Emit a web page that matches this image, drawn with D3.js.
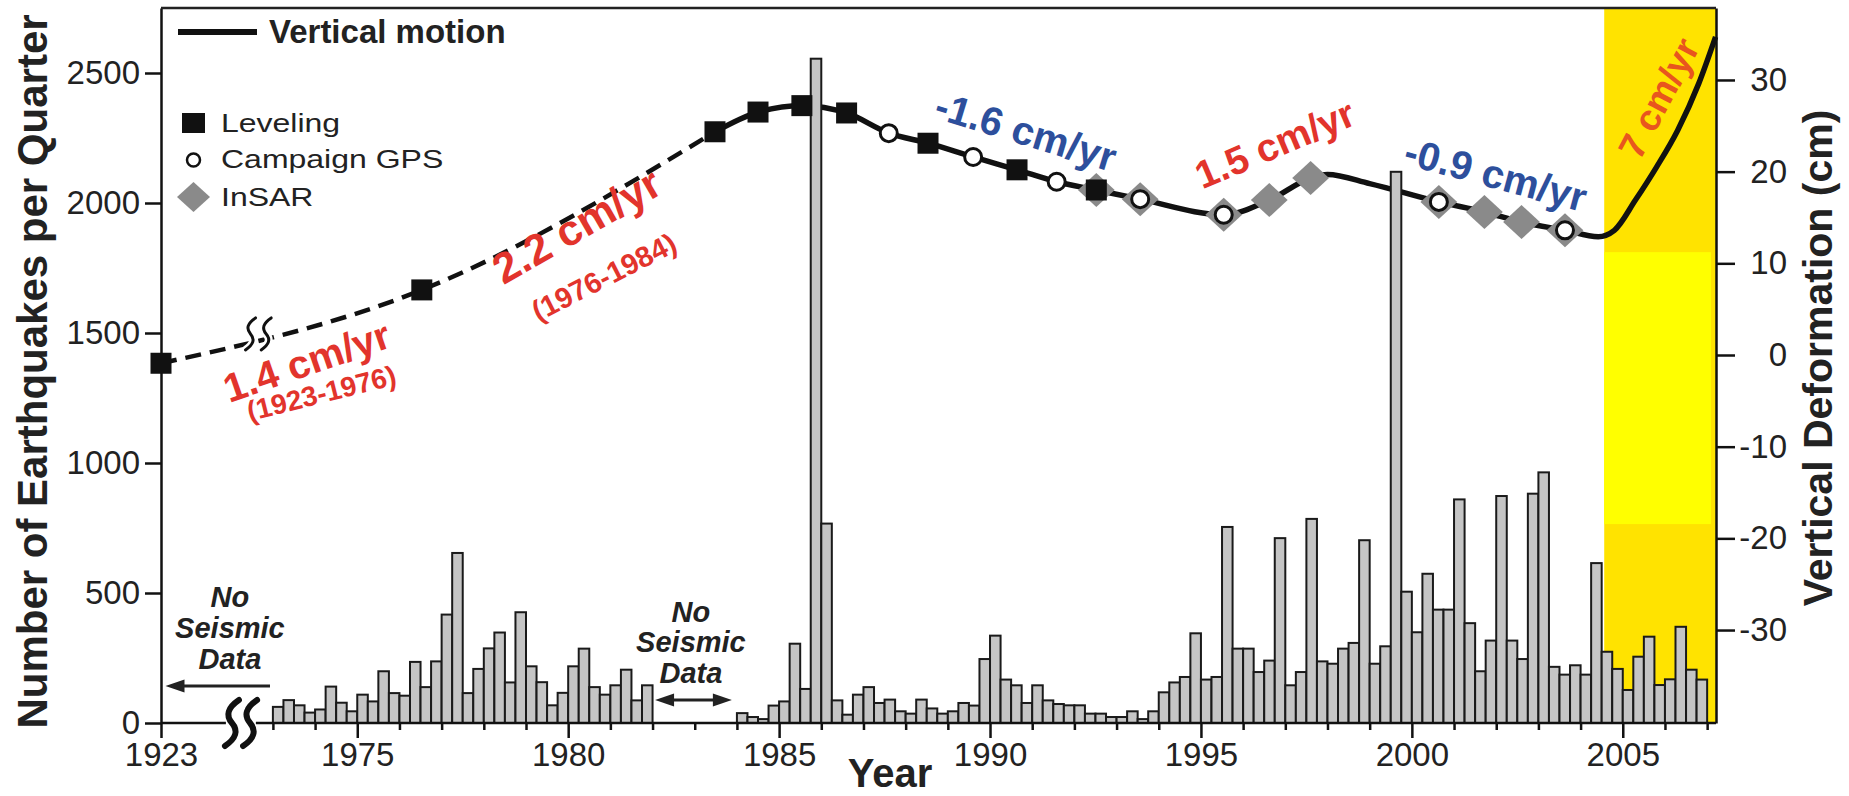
<!DOCTYPE html>
<html>
<head>
<meta charset="utf-8">
<script src="https://cdn.jsdelivr.net/npm/d3@7"></script>
<style>
  html, body { margin: 0; padding: 0; background: #fff; }
  svg { display: block; }
  text { font-family: "Liberation Sans", Arial, Helvetica, sans-serif; }
</style>
</head>
<body>
<svg id="chart" width="1849" height="796"></svg>
<script>
// ---- Quarterly earthquake counts (first quarter of each block, then one value per quarter)
const quakeStartEarly = 1973;
const quakeCountsEarly = [
  62, 88, 68, 40,      // 1973
  52, 140, 78, 45,     // 1974
  109, 83, 199, 115,   // 1975
  105, 235, 138, 237,  // 1976
  417, 654, 115, 208,  // 1977
  287, 348, 156, 426,  // 1978
  218, 157, 68, 116,   // 1979
  218, 286, 138, 109,  // 1980
  145, 205, 87, 145    // 1981
];
const quakeStartLate = 1984;
const quakeCountsLate = [
  38, 23, 15, 67,       // 1984
  83, 305, 131, 2555,   // 1985
  767, 87, 32, 109,     // 1986
  138, 77, 90, 45,      // 1987
  36, 90, 56, 36,       // 1988
  45, 77, 67, 246,      // 1989
  336, 167, 145, 77,    // 1990
  145, 87, 73, 68,      // 1991
  68, 36, 36, 23,       // 1992
  23, 45, 15, 45,       // 1993
  118, 156, 177, 345,   // 1994
  167, 177, 754, 286,   // 1995
  286, 196, 240, 711,   // 1996
  145, 196, 785, 237,   // 1997
  228, 286, 308, 703,   // 1998
  228, 295, 2120, 505,  // 1999
  349, 574, 436, 436,   // 2000
  860, 384, 199, 317,   // 2001
  873, 317, 246, 882,   // 2002
  964, 216, 186, 222,   // 2003
  186, 615, 274, 208,   // 2004
  127, 255, 332, 146,   // 2005
  168, 370, 205, 167    // 2006
];

// ---- Vertical motion (cm)
const motionYears = [1923, 1976.53, 1983.48, 1984.5, 1985.54, 1986.6, 1987.6, 1988.53, 1989.6,
  1990.64, 1991.58, 1992.52, 1993.56, 1995.54, 1996.62, 1997.6, 1998.0, 1999.0, 2000.64,
  2001.72, 2002.6, 2003.63, 2004.42, 2004.8, 2005.3, 2005.8, 2006.3, 2006.8, 2007.2];
const motionCm = [-0.9, 7.1, 24.35, 26.5, 27.2, 26.4, 24.2, 23.1, 21.6,
  20.2, 18.9, 18.0, 17.0, 15.3, 16.9, 19.3, 19.7, 18.7, 16.7,
  15.6, 14.5, 13.6, 12.9, 13.6, 16.9, 20.5, 24.5, 29.6, 34.7];
const dashedUntil = 1983.48;

const levelingYears = [1923, 1976.53, 1983.48, 1984.5, 1985.54, 1986.6, 1988.53, 1990.64, 1992.52];
const levelingCm    = [-0.9, 7.1, 24.35, 26.5, 27.2, 26.4, 23.1, 20.2, 18.0];
const gpsYears = [1987.6, 1989.6, 1991.58, 1993.56, 1995.54, 2000.64, 2003.63];
const gpsCm    = [24.2, 21.6, 18.9, 17.0, 15.3, 16.7, 13.6];
const insarYears = [1992.52, 1993.56, 1995.54, 1996.62, 1997.6, 2000.64, 2001.72, 2002.6, 2003.63];
const insarCm    = [18.0, 17.0, 15.3, 16.9, 19.3, 16.7, 15.6, 14.5, 13.6];

// ---- Axis ticks
const countTicks = [0, 500, 1000, 1500, 2000, 2500];
const cmTicks = [30, 20, 10, 0, -10, -20, -30];
const yearLabels = [1923, 1975, 1980, 1985, 1990, 1995, 2000, 2005];
const yearMinor = [1973, 1974, 1976, 1977, 1978, 1979, 1981, 1982, 1983, 1984, 1986, 1987, 1988, 1989,
  1991, 1992, 1993, 1994, 1996, 1997, 1998, 1999, 2001, 2002, 2003, 2004, 2006, 2007];

// ---- Rate annotations
const rateText  = ["1.4 cm/yr", "(1923-1976)", "2.2 cm/yr", "(1976-1984)", "-1.6 cm/yr", "1.5 cm/yr", "-0.9 cm/yr", "7 cm/yr"];
const rateKind  = ["up", "up", "up", "up", "down", "up", "down", "fast"];

// ---------------------------------------------------------------
const svg = d3.select("#chart");
const FONT = '"Liberation Sans", Arial, Helvetica, sans-serif';
const M = { left: 161, right: 1716, top: 8, bottom: 723 };

// time axis is broken between 1923 and 1973
const x = d3.scaleLinear().domain([1923, 1973, 2007.21]).range([M.left, 272.9, M.right]);
const yCount = d3.scaleLinear().domain([0, 2750]).range([M.bottom, M.top]);
const yCm = d3.scaleLinear().domain([-40.14, 37.85]).range([M.bottom, M.top]);

// annotation placement (year, cm, angle, size)
const rateLayout = [
  [1973.8, -0.7, -19, 40], [1974.15, -4.2, -14, 28],
  [1980.2, 14.1, -30, 43], [1980.85, 8.5, -27, 29],
  [1990.85, 24.4, 17, 40], [1996.75, 23.0, -23, 39],
  [2001.99, 19.7, 15, 40], [2005.86, 28.0, -62, 37]
];
const rateColor = { up: "#e2342c", down: "#2d4f9c", fast: "#e8561e" };

// ---- highlighted recent period
const bandStart = 2004.56;
svg.append("rect")
  .attr("x", x(bandStart)).attr("y", M.top)
  .attr("width", M.right - x(bandStart)).attr("height", M.bottom - M.top)
  .attr("fill", "#ffe300");
svg.append("rect")
  .attr("x", x(bandStart)).attr("y", yCount(1811))
  .attr("width", x(2007.09) - x(bandStart)).attr("height", yCount(765) - yCount(1811))
  .attr("fill", "#ffff00");

// ---- vertical motion curve (drawn beneath the bars)
const motion = motionYears.map((t, i) => ({ t, cm: motionCm[i] }));
const lineGen = d3.line().x(d => x(d.t)).y(d => yCm(d.cm)).curve(d3.curveMonotoneX);
svg.append("path")
  .datum(motion.filter(d => d.t <= dashedUntil))
  .attr("d", lineGen).attr("fill", "none")
  .attr("stroke", "#111").attr("stroke-width", 4.5).attr("stroke-dasharray", "16 9");
svg.append("path")
  .datum(motion.filter(d => d.t >= dashedUntil))
  .attr("d", lineGen).attr("fill", "none")
  .attr("stroke", "#111").attr("stroke-width", 5.5).attr("stroke-linejoin", "round");

// ---- quarterly bars
const quarters = [
  ...quakeCountsEarly.map((v, i) => ({ t: quakeStartEarly + i / 4, v })),
  ...quakeCountsLate.map((v, i) => ({ t: quakeStartLate + i / 4, v }))
];
svg.append("g").selectAll("rect").data(quarters).join("rect")
  .attr("x", d => x(d.t))
  .attr("width", d => x(d.t + 0.25) - x(d.t))
  .attr("y", d => yCount(d.v))
  .attr("height", d => yCount(0) - yCount(d.v))
  .attr("fill", "#c5c5c5").attr("stroke", "#1a1a1a").attr("stroke-width", 2);

// ---- axes
function styleAxis(g, size) {
  g.attr("font-family", FONT);
  g.select(".domain").attr("stroke", "#111").attr("stroke-width", 2.5);
  g.selectAll(".tick line").attr("stroke", "#111").attr("stroke-width", 2.5);
  g.selectAll(".tick text").attr("font-size", size).attr("fill", "#222");
}
const gl = svg.append("g").attr("transform", `translate(${M.left},0)`)
  .call(d3.axisLeft(yCount).tickValues(countTicks).tickSize(16).tickSizeOuter(0).tickPadding(5)
    .tickFormat(d3.format("d")));
styleAxis(gl, 33);

const gr = svg.append("g").attr("transform", `translate(${M.right},0)`)
  .call(d3.axisRight(yCm).tickValues(cmTicks).tickSize(19).tickSizeOuter(0)
    .tickFormat(d => String(d)));
styleAxis(gr, 33);
gr.selectAll(".tick text").attr("x", 71).attr("text-anchor", "end");

const gb = svg.append("g").attr("transform", `translate(0,${M.bottom})`)
  .call(d3.axisBottom(x).tickValues(yearLabels).tickSize(15).tickPadding(5).tickFormat(d3.format("d")));
styleAxis(gb, 33);
gb.select(".domain").remove();
const gm = svg.append("g").attr("transform", `translate(0,${M.bottom})`)
  .call(d3.axisBottom(x).tickValues(yearMinor).tickSize(7).tickFormat(() => ""));
styleAxis(gm, 10);
gm.select(".domain").remove();

// baseline with a break
const baseBreakA = 1952.0, baseBreakB = 1965.4;
svg.append("line").attr("x1", M.left).attr("x2", x(baseBreakA))
  .attr("y1", M.bottom).attr("y2", M.bottom).attr("stroke", "#111").attr("stroke-width", 2.5);
svg.append("line").attr("x1", x(baseBreakB)).attr("x2", M.right)
  .attr("y1", M.bottom).attr("y2", M.bottom).attr("stroke", "#111").attr("stroke-width", 2.5);
// frame top
svg.append("line").attr("x1", M.left).attr("x2", M.right)
  .attr("y1", M.top).attr("y2", M.top).attr("stroke", "#222").attr("stroke-width", 2.5);

function squiggle(cx, cy, h, w) {
  return `M${cx + w},${cy - h / 2} Q${cx - w * 1.4},${cy - h / 4} ${cx},${cy} Q${cx + w * 1.4},${cy + h / 4} ${cx - w},${cy + h / 2}`;
}
// break marks on the time axis
[1954.7, 1962.8].forEach(t => {
  svg.append("path").attr("d", squiggle(x(t), M.bottom, 46, 7))
    .attr("fill", "none").attr("stroke", "#111").attr("stroke-width", 6).attr("stroke-linecap", "round");
});
// break marks on the motion curve
[1963.0, 1970.0].forEach(t => {
  svg.append("path").attr("d", squiggle(x(t), yCm(2.3), 32, 5))
    .attr("fill", "none").attr("stroke", "#fff").attr("stroke-width", 8);
});
[1963.0, 1970.0].forEach(t => {
  svg.append("path").attr("d", squiggle(x(t), yCm(2.3), 32, 5))
    .attr("fill", "none").attr("stroke", "#111").attr("stroke-width", 3).attr("stroke-linecap", "round");
});

// ---- markers
svg.append("g").selectAll("path").data(insarYears.map((t, i) => ({ t, cm: insarCm[i] }))).join("path")
  .attr("transform", d => `translate(${x(d.t)},${yCm(d.cm)}) scale(1.15,1)`)
  .attr("d", "M0,-17 L16,0 L0,17 L-16,0 Z")
  .attr("fill", "#8a8a8a");
svg.append("g").selectAll("rect").data(levelingYears.map((t, i) => ({ t, cm: levelingCm[i] }))).join("rect")
  .attr("x", d => x(d.t) - 10.5).attr("y", d => yCm(d.cm) - 10.5)
  .attr("width", 21).attr("height", 21).attr("fill", "#111");
svg.append("g").selectAll("circle").data(gpsYears.map((t, i) => ({ t, cm: gpsCm[i] }))).join("circle")
  .attr("cx", d => x(d.t)).attr("cy", d => yCm(d.cm)).attr("r", 8.5)
  .attr("fill", "#fff").attr("stroke", "#111").attr("stroke-width", 3);

// ---- rate annotations
svg.append("g").selectAll("text").data(rateText.map((s, i) => ({ s, k: rateKind[i], p: rateLayout[i] }))).join("text")
  .attr("transform", d => `translate(${x(d.p[0])},${yCm(d.p[1])}) rotate(${d.p[2]})`)
  .attr("text-anchor", "middle").attr("dominant-baseline", "central")
  .attr("font-weight", "bold").attr("font-size", d => d.p[3])
  .attr("fill", d => rateColor[d.k])
  .text(d => d.s);

// ---- "No Seismic Data" notes
function noDataNote(t, counts) {
  const g = svg.append("g");
  ["No", "Seismic", "Data"].forEach((s, i) => {
    g.append("text").attr("x", x(t)).attr("y", yCount(counts[i]))
      .attr("text-anchor", "middle").attr("font-size", 29).attr("font-weight", "bold")
      .attr("font-style", "italic").attr("fill", "#222").text(s);
  });
}
noDataNote(1953.8, [446, 327, 208]);
noDataNote(1982.91, [388, 273, 154]);

function arrowHead(tipX, y, dir) {
  return `M${tipX},${y} L${tipX + dir * 19},${y - 6.5} L${tipX + dir * 19},${y + 6.5} Z`;
}
// left-pointing arrow toward 1923
{
  const ay = yCount(142), x0 = x(1925.0), x1 = x(1971.7);
  svg.append("line").attr("x1", x0 + 10).attr("x2", x1).attr("y1", ay).attr("y2", ay)
    .attr("stroke", "#222").attr("stroke-width", 3);
  svg.append("path").attr("d", arrowHead(x0, ay, 1)).attr("fill", "#222");
}
// double arrow across the 1982-1984 gap
{
  const ay = yCount(88), x0 = x(1982.06), x1 = x(1983.88);
  svg.append("line").attr("x1", x0 + 10).attr("x2", x1 - 10).attr("y1", ay).attr("y2", ay)
    .attr("stroke", "#222").attr("stroke-width", 3);
  svg.append("path").attr("d", arrowHead(x0, ay, 1)).attr("fill", "#222");
  svg.append("path").attr("d", arrowHead(x1, ay, -1)).attr("fill", "#222");
}

// ---- legend
const lg = svg.append("g");
lg.append("line").attr("x1", 178).attr("x2", 257).attr("y1", 32).attr("y2", 32)
  .attr("stroke", "#111").attr("stroke-width", 6);
lg.append("text").attr("x", 269).attr("y", 43).attr("font-size", 33).attr("font-weight", "bold")
  .attr("fill", "#222").text("Vertical motion");
lg.append("rect").attr("x", 182).attr("y", 113).attr("width", 23).attr("height", 20).attr("fill", "#111");
lg.append("circle").attr("cx", 193.5).attr("cy", 160).attr("r", 6.5)
  .attr("fill", "#fff").attr("stroke", "#111").attr("stroke-width", 2.5);
lg.append("path").attr("transform", "translate(193.5,197) scale(1.1,1)")
  .attr("d", "M0,-15 L15,0 L0,15 L-15,0 Z").attr("fill", "#8a8a8a");
[["Leveling", 132], ["Campaign GPS", 168], ["InSAR", 206]].forEach(([s, yb]) => {
  lg.append("text").attr("transform", `translate(221,${yb}) scale(1.28,1)`)
    .attr("font-size", 25).attr("fill", "#222").text(s);
});

// ---- axis titles
svg.append("text").attr("transform", `translate(47,${(M.top + M.bottom) / 2 + 6}) rotate(-90)`)
  .attr("text-anchor", "middle").attr("font-size", 42).attr("font-weight", "bold")
  .attr("fill", "#222").text("Number of Earthquakes per Quarter");
svg.append("text").attr("transform", `translate(1832,358) rotate(-90)`)
  .attr("text-anchor", "middle").attr("font-size", 41).attr("font-weight", "bold")
  .attr("fill", "#222").text("Vertical Deformation (cm)");
svg.append("text").attr("x", 890).attr("y", 787)
  .attr("text-anchor", "middle").attr("font-size", 40).attr("font-weight", "bold")
  .attr("fill", "#222").text("Year");
</script>
</body>
</html>
